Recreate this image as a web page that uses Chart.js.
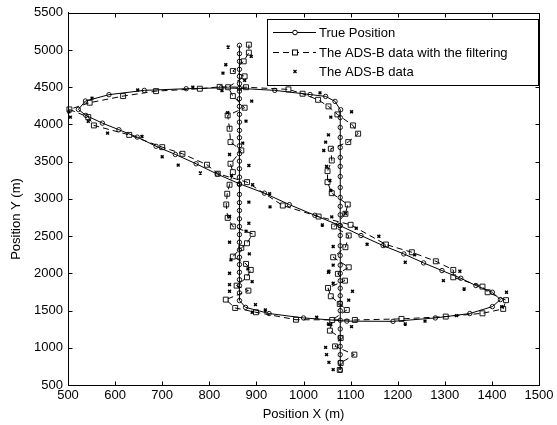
<!DOCTYPE html>
<html>
<head>
<meta charset="utf-8">
<script src="https://cdn.jsdelivr.net/npm/chart.js@4.4.1/dist/chart.umd.min.js"></script>
<style>
  html, body { margin: 0; padding: 0; background: #fff; }
</style>
</head>
<body>
<canvas id="track" width="557" height="425"></canvas>
<script>
// axis ticks
const xTickValues = [500, 600, 700, 800, 900, 1000, 1100, 1200, 1300, 1400, 1500];
const yTickValues = [500, 1000, 1500, 2000, 2500, 3000, 3500, 4000, 4500, 5000, 5500];

// true position (path order)
const trueX = [1078, 1078, 1078, 1078, 1078, 1078, 1078, 1078, 1078, 1078, 1078, 1078, 1078, 1078, 1078, 1078,
  1078, 1078, 1078, 1078, 1078, 1078, 1078, 1078, 1078, 1078, 1078, 1078, 1078, 1079,
  1067, 1047, 1014, 939, 864, 825, 751, 662, 587, 537, 522,
  538, 573, 608, 647, 687, 728, 772, 817, 864, 917, 970, 1024, 1077, 1122, 1169, 1213, 1255, 1294, 1334, 1366, 1401, 1418,
  1401, 1353, 1280, 1190, 1092, 1000, 927, 877, 864,
  864, 864, 864, 864, 864, 864, 864, 864, 864, 864, 864, 864, 864, 864, 864, 864, 864, 864, 864, 864, 864, 864,
  864, 864, 864, 864, 864, 864, 864, 864, 864, 864, 864];
const trueY = [702, 804, 908, 1019, 1140, 1253, 1370, 1499, 1600, 1700, 1800, 1900, 2000, 2110, 2240, 2370,
  2508, 2642, 2786, 2900, 3019, 3153, 3301, 3436, 3557, 3691, 3826, 3960, 4093, 4198,
  4310, 4377, 4402, 4458, 4485, 4492, 4480, 4458, 4400, 4315, 4202,
  4122, 4018, 3929, 3830, 3707, 3597, 3472, 3333, 3203, 3077, 2923, 2780, 2642, 2508, 2373, 2261, 2140, 2037, 1934, 1836, 1746, 1647,
  1553, 1460, 1401, 1355, 1358, 1401, 1460, 1543, 1634,
  1737, 1835, 1916, 2014, 2118, 2216, 2315, 2418, 2521, 2629, 2732, 2844, 2950, 3060, 3194, 3292, 3405, 3507, 3607, 3714, 3822, 3920,
  4031, 4135, 4243, 4346, 4448, 4548, 4646, 4740, 4848, 4951, 5063];

// ADS-B data after filtering (path order)
const filteredX = [1077, 1079, 1108, 1067, 1079, 1056, 1061, 1092, 1077, 1058, 1052, 1088, 1073, 1096, 1063, 1089,
  1096, 1065, 1089, 1094, 1060, 1051, 1051, 1060, 1058, 1095, 1116, 1105, 1072, 1053,
  1031, 998, 968, 878, 822, 780, 687, 617, 546, 503,
  543, 555, 630, 700, 743, 795, 818, 880, 956, 1032, 1100, 1175, 1230, 1281, 1318, 1318, 1380, 1391, 1430,
  1424, 1380, 1302, 1208, 1109, 984, 899, 855, 835,
  883, 858, 880, 888, 878, 850, 868, 880, 892, 850, 839, 836, 838, 843, 850, 845, 868, 845, 843, 839,
  875, 850, 840, 875, 850, 873, 884, 884];
const filteredY = [702, 796, 908, 1019, 1132, 1230, 1374, 1508, 1589, 1692, 1804, 1902, 1993, 2081, 2216, 2351,
  2508, 2629, 2800, 2925, 3077, 3225, 3373, 3516, 3674, 3763, 3876, 3987, 4135, 4243,
  4331, 4413, 4471, 4500, 4505, 4480, 4448, 4381, 4292, 4202,
  4099, 3987, 3860, 3695, 3606, 3459, 3338, 3225, 2911, 2763, 2652, 2387, 2283, 2162, 2046, 1947, 1822, 1746, 1640,
  1522, 1463, 1419, 1388, 1374, 1377, 1477, 1535, 1647,
  1768, 1835, 1947, 2046, 2127, 2225, 2342, 2404, 2530, 2629, 2745, 2925, 3069, 3190, 3359, 3472, 3651, 3763, 3943, 4122,
  4225, 4381, 4500, 4646, 4717, 4848, 4965, 5072];

// raw ADS-B data
const rawX = [840, 835, 829, 889, 875, 890, 878, 839, 843, 871, 884, 847, 892, 884, 928,
  765, 648, 551, 505, 543, 584, 657, 700, 734, 781, 827,
  1035, 1102, 1058, 1053, 1047, 1043, 1056, 1049, 1058, 1089, 1060, 929,
  1040, 1112, 1063, 1063, 1054, 1104, 1096, 1053, 1102, 1047, 1049, 1054, 1063,
  1135, 1160, 1216, 1236, 1258, 1216, 1297, 1332, 1341, 1431, 1421, 1325, 1028,
  843, 884, 878, 843, 885, 846, 882, 843, 891, 843, 843, 898, 919, 891, 1063, 1058, 1053, 502];
const rawY = [5040, 4803, 4690, 4915, 4592, 4314, 4045, 4158, 3597, 3749, 3449, 3315, 3190, 2956, 3069,
  4500, 4462, 4354, 4099, 4041, 3884, 3839, 3566, 3454, 3348, 4455,
  4425, 4170, 4099, 3860, 3762, 3651, 3247, 3436, 3113, 2805, 2758, 2893,
  2650, 2606, 2360, 2110, 2028, 1759, 1640, 1320, 1284, 1006, 908, 804, 706,
  2390, 2498, 2149, 2248, 1358, 1320, 1902, 2028, 1790, 1746, 1553, 1432, 1410,
  2763, 2673, 2566, 2418, 2261, 2181, 2060, 2001, 1889, 1849, 1759, 1580, 1508, 1477, 1866, 1311, 2014, 4170];

const seriesNames = ['True Position', 'The ADS-B data with the filtering', 'The ADS-B data'];

const toPoints = (xs, ys) => xs.map((x, i) => ({ x: x, y: ys[i] }));

const FONT = "'Liberation Sans', Arial, sans-serif";
Chart.defaults.font.family = FONT;
Chart.defaults.font.size = 13;
Chart.defaults.color = '#000';

const tickLen = 4;

// box, inward ticks on all sides, y title and the legend
const framePlugin = {
  id: 'frame',
  afterDatasetsDraw(chart) {
    const ctx = chart.ctx;
    const a = chart.chartArea;
    const xs = chart.scales.x;
    const ys = chart.scales.y;
    const l = Math.round(a.left) + 0.5, r = Math.round(a.right) + 0.5;
    const t = Math.round(a.top) + 0.5, b = Math.round(a.bottom) + 0.5;

    ctx.save();
    ctx.strokeStyle = '#000';
    ctx.lineWidth = 1;
    ctx.setLineDash([]);
    ctx.beginPath();
    ctx.rect(l, t, r - l, b - t);
    xTickValues.forEach(v => {
      const px = Math.round(xs.getPixelForValue(v)) + 0.5;
      ctx.moveTo(px, b); ctx.lineTo(px, b - tickLen);
      ctx.moveTo(px, t); ctx.lineTo(px, t + tickLen);
    });
    yTickValues.forEach(v => {
      const py = Math.round(ys.getPixelForValue(v)) + 0.5;
      ctx.moveTo(l, py); ctx.lineTo(l + tickLen, py);
      ctx.moveTo(r, py); ctx.lineTo(r - tickLen, py);
    });
    ctx.stroke();

    // y axis title
    ctx.save();
    ctx.translate(16, 219);
    ctx.rotate(-Math.PI / 2);
    ctx.fillStyle = '#000';
    ctx.font = '13px ' + FONT;
    ctx.textAlign = 'center';
    ctx.textBaseline = 'middle';
    ctx.fillText('Position Y (m)', 0, 0);
    ctx.restore();

    // legend box
    const bx = 267.5, by = 19.5, bw = 271, bh = 66;
    ctx.fillStyle = '#fff';
    ctx.fillRect(bx, by, bw, bh);
    ctx.strokeRect(bx, by, bw, bh);

    const rows = [32.5, 52.5, 71.5];
    const x0 = 273, x1 = 316, mx = 295;
    ctx.font = '13px ' + FONT;
    ctx.textAlign = 'left';
    ctx.textBaseline = 'middle';

    // true position sample
    ctx.beginPath();
    ctx.moveTo(x0, rows[0]); ctx.lineTo(x1, rows[0]);
    ctx.stroke();
    ctx.beginPath();
    ctx.fillStyle = '#fff';
    ctx.arc(mx, rows[0], 2.3, 0, Math.PI * 2);
    ctx.fill();
    ctx.stroke();

    // filtered sample
    ctx.setLineDash([6, 4]);
    ctx.beginPath();
    ctx.moveTo(x0, rows[1]); ctx.lineTo(x1, rows[1]);
    ctx.stroke();
    ctx.setLineDash([]);
    ctx.fillStyle = '#fff';
    ctx.fillRect(mx - 2.5, rows[1] - 2.5, 5, 5);
    ctx.strokeRect(mx - 2.5, rows[1] - 2.5, 5, 5);

    // raw sample
    ctx.beginPath();
    ctx.lineWidth = 1.3;
    ctx.moveTo(mx - 1.5, rows[2] - 1.5); ctx.lineTo(mx + 1.5, rows[2] + 1.5);
    ctx.moveTo(mx + 1.5, rows[2] - 1.5); ctx.lineTo(mx - 1.5, rows[2] + 1.5);
    ctx.stroke();

    ctx.fillStyle = '#000';
    seriesNames.forEach((name, i) => ctx.fillText(name, 319, rows[i] + 0.5));
    ctx.restore();
  }
};

new Chart(document.getElementById('track').getContext('2d'), {
  type: 'scatter',
  data: {
    datasets: [
      {
        label: seriesNames[0],
        data: toPoints(trueX, trueY),
        showLine: true,
        borderColor: '#000',
        borderWidth: 1,
        tension: 0,
        pointStyle: 'circle',
        pointRadius: 2.2,
        pointBorderWidth: 0.9,
        pointBorderColor: '#000',
        pointBackgroundColor: 'rgba(255,255,255,0)',
        clip: 6
      },
      {
        label: seriesNames[1],
        data: toPoints(filteredX, filteredY),
        showLine: true,
        borderColor: '#000',
        borderWidth: 1,
        borderDash: [6, 4],
        tension: 0,
        pointStyle: 'rect',
        pointRadius: 3.5,
        pointBorderWidth: 0.9,
        pointBorderColor: '#000',
        pointBackgroundColor: 'rgba(255,255,255,0)',
        clip: 6
      },
      {
        label: seriesNames[2],
        data: toPoints(rawX, rawY),
        showLine: false,
        pointStyle: 'crossRot',
        pointRadius: 2,
        pointBorderWidth: 1.5,
        pointBorderColor: '#000',
        pointBackgroundColor: '#000',
        clip: 6
      }
    ]
  },
  options: {
    responsive: false,
    animation: false,
    events: [],
    layout: { padding: { left: 0, top: 12, right: 18, bottom: 0 } },
    plugins: {
      legend: { display: false },
      tooltip: { enabled: false }
    },
    scales: {
      x: {
        type: 'linear',
        min: 500,
        max: 1500,
        afterBuildTicks: scale => { scale.ticks = xTickValues.map(v => ({ value: v })); },
        afterFit: scale => { scale.height = 40; },
        ticks: { color: '#000', padding: 3, maxRotation: 0, autoSkip: false, font: { size: 13 }, callback: v => String(v) },
        grid: { display: false, drawTicks: false },
        border: { display: true, color: '#000', width: 1 },
        title: { display: true, text: 'Position X (m)', color: '#000', font: { size: 13 }, padding: { top: 0, bottom: 3 } }
      },
      y: {
        type: 'linear',
        min: 500,
        max: 5500,
        afterBuildTicks: scale => { scale.ticks = yTickValues.map(v => ({ value: v })); },
        afterFit: scale => { scale.width = 68; },
        ticks: { color: '#000', padding: 5, autoSkip: false, font: { size: 13 }, callback: v => String(v) },
        grid: { display: false, drawTicks: false },
        border: { display: true, color: '#000', width: 1 }
      }
    }
  },
  plugins: [framePlugin]
});
</script>
</body>
</html>
